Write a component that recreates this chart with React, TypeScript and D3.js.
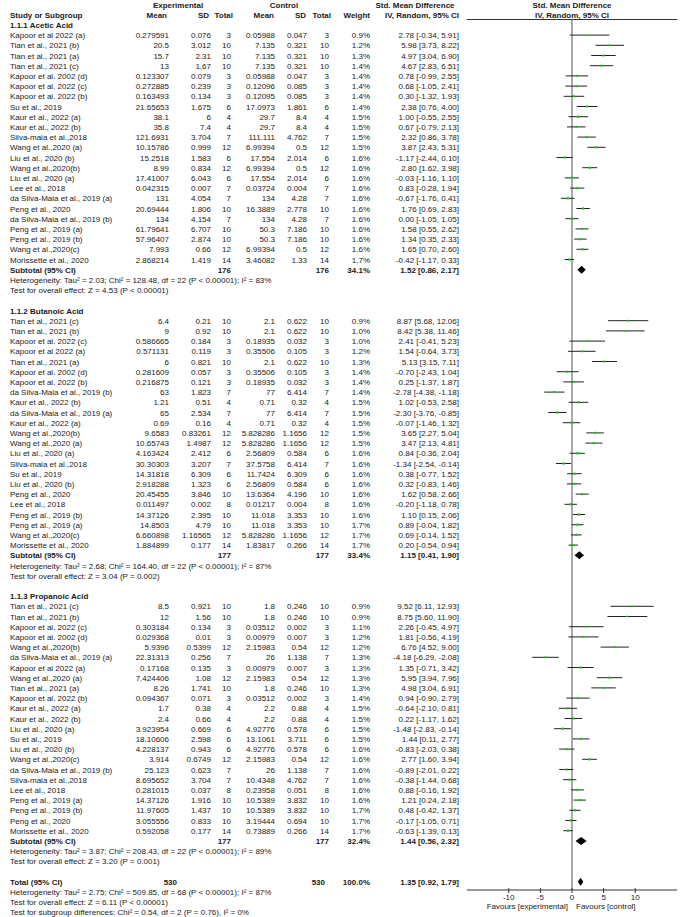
import React from 'react';
import * as d3 from 'd3';

// [study, expMean, expSD, expN, ctlMean, ctlSD, ctlN, weight%, smd, lower, upper]
type Row = [string, string, string, number, string, string, number, number, number, number, number];

const aceticRows: Row[] = [
  ['Kapoor et al 2022 (a)', '0.279591', '0.076', 3, '0.05988', '0.047', 3, 0.9, 2.78, -0.34, 5.91],
  ['Tian et al., 2021 (b)', '20.5', '3.012', 10, '7.135', '0.321', 10, 1.2, 5.98, 3.73, 8.22],
  ['Tian et al., 2021 (a)', '15.7', '2.31', 10, '7.135', '0.321', 10, 1.3, 4.97, 3.04, 6.9],
  ['Tian et al., 2021 (c)', '13', '1.67', 10, '7.135', '0.321', 10, 1.4, 4.67, 2.83, 6.51],
  ['Kapoor et al. 2002 (d)', '0.123307', '0.079', 3, '0.05988', '0.047', 3, 1.4, 0.78, -0.99, 2.55],
  ['Kapoor et al. 2022 (c)', '0.272885', '0.239', 3, '0.12096', '0.085', 3, 1.4, 0.68, -1.05, 2.41],
  ['Kapoor et al. 2022 (b)', '0.163493', '0.134', 3, '0.12095', '0.085', 3, 1.4, 0.3, -1.32, 1.93],
  ['Su et al., 2019', '21.65653', '1.675', 6, '17.0973', '1.861', 6, 1.4, 2.38, 0.76, 4.0],
  ['Kaur et al., 2022 (a)', '38.1', '6', 4, '29.7', '8.4', 4, 1.5, 1.0, -0.55, 2.55],
  ['Kaur et al., 2022 (b)', '35.8', '7.4', 4, '29.7', '8.4', 4, 1.5, 0.67, -0.79, 2.13],
  ['Silva-maia et al.,2018', '121.6931', '3.704', 7, '111.111', '4.762', 7, 1.5, 2.32, 0.86, 3.78],
  ['Wang et al.,2020 (a)', '10.15786', '0.999', 12, '6.99394', '0.5', 12, 1.5, 3.87, 2.43, 5.31],
  ['Liu et al., 2020 (b)', '15.2518', '1.583', 6, '17.554', '2.014', 6, 1.6, -1.17, -2.44, 0.1],
  ['Wang et al.,2020(b)', '8.99', '0.834', 12, '6.99394', '0.5', 12, 1.6, 2.8, 1.62, 3.98],
  ['Liu et al., 2020 (a)', '17.41007', '6.043', 6, '17.554', '2.014', 6, 1.6, -0.03, -1.16, 1.1],
  ['Lee et al., 2018', '0.042315', '0.007', 7, '0.03724', '0.004', 7, 1.6, 0.83, -0.28, 1.94],
  ['da Silva-Maia et al., 2019 (a)', '131', '4.054', 7, '134', '4.28', 7, 1.6, -0.67, -1.76, 0.41],
  ['Peng et al., 2020', '20.69444', '1.806', 10, '16.3889', '2.778', 10, 1.6, 1.76, 0.69, 2.83],
  ['da Silva-Maia et al., 2019 (b)', '134', '4.154', 7, '134', '4.28', 7, 1.6, 0.0, -1.05, 1.05],
  ['Peng et al., 2019 (a)', '61.79641', '6.707', 10, '50.3', '7.186', 10, 1.6, 1.58, 0.55, 2.62],
  ['Peng et al., 2019 (b)', '57.96407', '2.874', 10, '50.3', '7.186', 10, 1.6, 1.34, 0.35, 2.33],
  ['Wang et al.,2020(c)', '7.993', '0.66', 12, '6.99394', '0.5', 12, 1.6, 1.65, 0.7, 2.6],
  ['Morissette et al., 2020', '2.868214', '1.419', 14, '3.46082', '1.33', 14, 1.7, -0.42, -1.17, 0.33],
];

const butanoicRows: Row[] = [
  ['Tian et al., 2021 (c)', '6.4', '0.21', 10, '2.1', '0.622', 10, 0.9, 8.87, 5.68, 12.06],
  ['Tian et al., 2021 (b)', '9', '0.92', 10, '2.1', '0.622', 10, 1.0, 8.42, 5.38, 11.46],
  ['Kapoor et al. 2022 (c)', '0.586665', '0.184', 3, '0.18935', '0.032', 3, 1.0, 2.41, -0.41, 5.23],
  ['Kapoor et al 2022 (a)', '0.571131', '0.119', 3, '0.35506', '0.105', 3, 1.2, 1.54, -0.64, 3.73],
  ['Tian et al., 2021 (a)', '6', '0.821', 10, '2.1', '0.622', 10, 1.3, 5.13, 3.15, 7.11],
  ['Kapoor et al. 2002 (d)', '0.281609', '0.057', 3, '0.35506', '0.105', 3, 1.4, -0.7, -2.43, 1.04],
  ['Kapoor et al. 2022 (b)', '0.216875', '0.121', 3, '0.18935', '0.032', 3, 1.4, 0.25, -1.37, 1.87],
  ['da Silva-Maia et al., 2019 (b)', '63', '1.823', 7, '77', '6.414', 7, 1.4, -2.78, -4.38, -1.18],
  ['Kaur et al., 2022 (b)', '1.21', '0.51', 4, '0.71', '0.32', 4, 1.5, 1.02, -0.53, 2.58],
  ['da Silva-Maia et al., 2019 (a)', '65', '2.534', 7, '77', '6.414', 7, 1.5, -2.3, -3.76, -0.85],
  ['Kaur et al., 2022 (a)', '0.69', '0.16', 4, '0.71', '0.32', 4, 1.5, -0.07, -1.46, 1.32],
  ['Wang et al.,2020(b)', '9.6583', '0.83261', 12, '5.828286', '1.1656', 12, 1.5, 3.65, 2.27, 5.04],
  ['Wang et al.,2020 (a)', '10.65743', '1.4987', 12, '5.828286', '1.1656', 12, 1.5, 3.47, 2.13, 4.81],
  ['Liu et al., 2020 (a)', '4.163424', '2.412', 6, '2.56809', '0.584', 6, 1.6, 0.84, -0.36, 2.04],
  ['Silva-maia et al.,2018', '30.30303', '3.207', 7, '37.5758', '6.414', 7, 1.6, -1.34, -2.54, -0.14],
  ['Su et al., 2019', '14.31818', '6.309', 6, '11.7424', '6.309', 6, 1.6, 0.38, -0.77, 1.52],
  ['Liu et al., 2020 (b)', '2.918288', '1.323', 6, '2.56809', '0.584', 6, 1.6, 0.32, -0.83, 1.46],
  ['Peng et al., 2020', '20.45455', '3.846', 10, '13.6364', '4.196', 10, 1.6, 1.62, 0.58, 2.66],
  ['Lee et al., 2018', '0.011497', '0.002', 8, '0.01217', '0.004', 8, 1.6, -0.2, -1.18, 0.78],
  ['Peng et al., 2019 (b)', '14.37126', '2.395', 10, '11.018', '3.353', 10, 1.6, 1.1, 0.15, 2.06],
  ['Peng et al., 2019 (a)', '14.8503', '4.79', 10, '11.018', '3.353', 10, 1.7, 0.89, -0.04, 1.82],
  ['Wang et al.,2020(c)', '6.660898', '1.16565', 12, '5.828286', '1.1656', 12, 1.7, 0.69, -0.14, 1.52],
  ['Morissette et al., 2020', '1.884899', '0.177', 14, '1.83817', '0.266', 14, 1.7, 0.2, -0.54, 0.94],
];

const propanoicRows: Row[] = [
  ['Tian et al., 2021 (c)', '8.5', '0.921', 10, '1.8', '0.246', 10, 0.9, 9.52, 6.11, 12.93],
  ['Tian et al., 2021 (b)', '12', '1.56', 10, '1.8', '0.246', 10, 0.9, 8.75, 5.6, 11.9],
  ['Kapoor et al. 2022 (c)', '0.303184', '0.134', 3, '0.03512', '0.002', 3, 1.1, 2.26, -0.45, 4.97],
  ['Kapoor et al. 2002 (d)', '0.029368', '0.01', 3, '0.00979', '0.007', 3, 1.2, 1.81, -0.56, 4.19],
  ['Wang et al.,2020(b)', '5.9396', '0.5399', 12, '2.15983', '0.54', 12, 1.2, 6.76, 4.52, 9.0],
  ['da Silva-Maia et al., 2019 (a)', '22.31313', '0.256', 7, '26', '1.138', 7, 1.3, -4.18, -6.29, -2.08],
  ['Kapoor et al 2022 (a)', '0.17168', '0.135', 3, '0.00979', '0.007', 3, 1.3, 1.35, -0.71, 3.42],
  ['Wang et al.,2020 (a)', '7.424406', '1.08', 12, '2.15983', '0.54', 12, 1.3, 5.95, 3.94, 7.96],
  ['Tian et al., 2021 (a)', '8.26', '1.741', 10, '1.8', '0.246', 10, 1.3, 4.98, 3.04, 6.91],
  ['Kapoor et al. 2022 (b)', '0.094367', '0.071', 3, '0.03512', '0.002', 3, 1.4, 0.94, -0.9, 2.79],
  ['Kaur et al., 2022 (a)', '1.7', '0.38', 4, '2.2', '0.88', 4, 1.5, -0.64, -2.1, 0.81],
  ['Kaur et al., 2022 (b)', '2.4', '0.66', 4, '2.2', '0.88', 4, 1.5, 0.22, -1.17, 1.62],
  ['Liu et al., 2020 (a)', '3.923954', '0.669', 6, '4.92776', '0.578', 6, 1.5, -1.48, -2.83, -0.14],
  ['Su et al., 2019', '18.10606', '2.598', 6, '13.1061', '3.711', 6, 1.5, 1.44, 0.11, 2.77],
  ['Liu et al., 2020 (b)', '4.228137', '0.943', 6, '4.92776', '0.578', 6, 1.6, -0.83, -2.03, 0.38],
  ['Wang et al.,2020(c)', '3.914', '0.6749', 12, '2.15983', '0.54', 12, 1.6, 2.77, 1.6, 3.94],
  ['da Silva-Maia et al., 2019 (b)', '25.123', '0.623', 7, '26', '1.138', 7, 1.6, -0.89, -2.01, 0.22],
  ['Silva-maia et al.,2018', '8.695652', '3.704', 7, '10.4348', '4.762', 7, 1.6, -0.38, -1.44, 0.68],
  ['Lee et al., 2018', '0.281015', '0.037', 8, '0.23958', '0.051', 8, 1.6, 0.88, -0.16, 1.92],
  ['Peng et al., 2019 (a)', '14.37126', '1.916', 10, '10.5389', '3.832', 10, 1.6, 1.21, 0.24, 2.18],
  ['Peng et al., 2019 (b)', '11.97605', '1.437', 10, '10.5389', '3.832', 10, 1.7, 0.48, -0.42, 1.37],
  ['Peng et al., 2020', '3.055556', '0.833', 10, '3.19444', '0.694', 10, 1.7, -0.17, -1.05, 0.71],
  ['Morissette et al., 2020', '0.592058', '0.177', 14, '0.73889', '0.266', 14, 1.7, -0.63, -1.39, 0.13],
];

const groupTitles = ['1.1.1 Acetic Acid', '1.1.2 Butanoic Acid', '1.1.3 Propanoic Acid'];
// [expN, ctlN, weight, smd, lower, upper]
const subtotals = [
  [176, 176, 34.1, 1.52, 0.86, 2.17],
  [177, 177, 33.4, 1.15, 0.41, 1.9],
  [177, 177, 32.4, 1.44, 0.56, 2.32],
];
const heterogeneity = [
  'Heterogeneity: Tau² = 2.03; Chi² = 128.48, df = 22 (P < 0.00001); I² = 83%',
  'Heterogeneity: Tau² = 2.68; Chi² = 164.40, df = 22 (P < 0.00001); I² = 87%',
  'Heterogeneity: Tau² = 3.87; Chi² = 208.43, df = 22 (P < 0.00001); I² = 89%',
];
const overallTests = [
  'Test for overall effect: Z = 4.53 (P < 0.00001)',
  'Test for overall effect: Z = 3.04 (P = 0.002)',
  'Test for overall effect: Z = 3.20 (P = 0.001)',
];
const totalRow = [530, 530, 100.0, 1.35, 0.92, 1.79];
const totalNotes = [
  'Heterogeneity: Tau² = 2.75; Chi² = 509.85, df = 68 (P < 0.00001); I² = 87%',
  'Test for overall effect: Z = 6.11 (P < 0.00001)',
  'Test for subgroup differences: Chi² = 0.54, df = 2 (P = 0.76), I² = 0%',
];
const axisTicks = [-10, -5, 0, 5, 10];

const W = 685;
const H = 917;
const FONT = '"Liberation Sans", Arial, sans-serif';
const TEXT = '#1a1a1a';
const rowY = (i: number) => 4.5 + i * 10.2;

const col = { study: 10, expMean: 169, expSD: 211, expN: 231, ctlMean: 275, ctlSD: 307, ctlN: 329, weight: 370, ci: 459 };

const f2 = (v: number) => v.toFixed(2);
const ciText = (m: number, lo: number, hi: number) => `${f2(m)} [${f2(lo)}, ${f2(hi)}]`;

const T: React.FC<{ x: number; i: number; anchor?: string; bold?: boolean; children: React.ReactNode }> = ({ x, i, anchor = 'start', bold, children }) => (
  <text x={x} y={rowY(i) + 3} textAnchor={anchor as any} fontWeight={bold ? 'bold' : 'normal'} fill={TEXT}>
    {children}
  </text>
);

export default function App() {
  const x = d3.scaleLinear().domain([-16.6, 16.6]).range([467, 677]);
  const axisY = 890;
  const groups = [aceticRows, butanoicRows, propanoicRows];

  const diamond = (m: number, lo: number, hi: number, cy: number) => {
    const p = d3.path();
    p.moveTo(x(lo), cy);
    p.lineTo(x(m), cy - 4);
    p.lineTo(x(hi), cy);
    p.lineTo(x(m), cy + 4);
    p.closePath();
    return p.toString();
  };

  return (
    <svg width={W} height={H} style={{ position: 'absolute', left: 0, top: 0, background: '#fff' }} fontFamily={FONT} fontSize={8}>
      <rect width={W} height={H} fill="#fff" />
      {/* header */}
      <T x={178} i={0} anchor="middle" bold>Experimental</T>
      <T x={284} i={0} anchor="middle" bold>Control</T>
      <T x={415} i={0} anchor="middle" bold>Std. Mean Difference</T>
      <T x={572} i={0} anchor="middle" bold>Std. Mean Difference</T>
      <T x={col.study} i={1} bold>Study or Subgroup</T>
      <T x={167} i={1} anchor="end" bold>Mean</T>
      <T x={209} i={1} anchor="end" bold>SD</T>
      <T x={233} i={1} anchor="end" bold>Total</T>
      <T x={274} i={1} anchor="end" bold>Mean</T>
      <T x={306} i={1} anchor="end" bold>SD</T>
      <T x={331} i={1} anchor="end" bold>Total</T>
      <T x={370} i={1} anchor="end" bold>Weight</T>
      <T x={422} i={1} anchor="middle" bold>IV, Random, 95% CI</T>
      <T x={572} i={1} anchor="middle" bold>IV, Random, 95% CI</T>
      <line x1={x(-16.6)} x2={x(16.6)} y1={19.5} y2={19.5} stroke="#333" strokeWidth={1} />
      {/* zero line */}
      <line x1={x(0)} x2={x(0)} y1={19.5} y2={axisY} stroke="#555" strokeWidth={1} />

      {groups.map((rows, g) => {
        const base = 2 + g * 28;
        const s = subtotals[g];
        return (
          <g key={g}>
            <T x={col.study} i={base} bold>{groupTitles[g]}</T>
            {rows.map((r, j) => {
              const i = base + 1 + j;
              const cy = rowY(i);
              const sz = 1 + r[7] * 0.8;
              return (
                <g key={j}>
                  <T x={col.study} i={i}>{r[0]}</T>
                  <T x={col.expMean} i={i} anchor="end">{r[1]}</T>
                  <T x={col.expSD} i={i} anchor="end">{r[2]}</T>
                  <T x={col.expN} i={i} anchor="end">{r[3]}</T>
                  <T x={col.ctlMean} i={i} anchor="end">{r[4]}</T>
                  <T x={col.ctlSD} i={i} anchor="end">{r[5]}</T>
                  <T x={col.ctlN} i={i} anchor="end">{r[6]}</T>
                  <T x={col.weight} i={i} anchor="end">{r[7].toFixed(1)}%</T>
                  <T x={col.ci} i={i} anchor="end">{ciText(r[8], r[9], r[10])}</T>
                  <line x1={x(r[9])} x2={x(r[10])} y1={cy} y2={cy} stroke="#222" strokeWidth={1} />
                  <rect x={x(r[8]) - sz / 2} y={cy - sz / 2} width={sz} height={sz} fill="#1fc41f" />
                </g>
              );
            })}
            <T x={col.study} i={base + 24} bold>Subtotal (95% CI)</T>
            <T x={col.expN} i={base + 24} anchor="end" bold>{s[0]}</T>
            <T x={col.ctlN} i={base + 24} anchor="end" bold>{s[1]}</T>
            <T x={col.weight} i={base + 24} anchor="end" bold>{s[2].toFixed(1)}%</T>
            <T x={col.ci} i={base + 24} anchor="end" bold>{ciText(s[3], s[4], s[5])}</T>
            <path d={diamond(s[3], s[4], s[5], rowY(base + 24))} fill="#000" />
            <T x={col.study} i={base + 25}>{heterogeneity[g]}</T>
            <T x={col.study} i={base + 26}>{overallTests[g]}</T>
          </g>
        );
      })}

      {/* overall total */}
      <T x={col.study} i={86} bold>Total (95% CI)</T>
      <T x={177} i={86} anchor="end" bold>{totalRow[0]}</T>
      <T x={325} i={86} anchor="end" bold>{totalRow[1]}</T>
      <T x={col.weight} i={86} anchor="end" bold>{totalRow[2].toFixed(1)}%</T>
      <T x={col.ci} i={86} anchor="end" bold>{ciText(totalRow[3], totalRow[4], totalRow[5])}</T>
      <path d={diamond(totalRow[3], totalRow[4], totalRow[5], rowY(86))} fill="#000" />
      {totalNotes.map((t, k) => (
        <T key={k} x={col.study} i={87 + k}>{t}</T>
      ))}

      {/* axis */}
      <line x1={x(-16.6)} x2={x(16.6)} y1={axisY} y2={axisY} stroke="#333" strokeWidth={1} />
      {axisTicks.map((t) => (
        <g key={t}>
          <line x1={x(t)} x2={x(t)} y1={axisY - 2} y2={axisY + 3} stroke="#333" strokeWidth={1} />
          <text x={x(t)} y={axisY + 10} textAnchor="middle" fill={TEXT}>{t}</text>
        </g>
      ))}
      <text x={x(0) - 4} y={axisY + 19} textAnchor="end" fill={TEXT}>Favours [experimental]</text>
      <text x={x(0) + 4} y={axisY + 19} textAnchor="start" fill={TEXT}>Favours [control]</text>
    </svg>
  );
}
